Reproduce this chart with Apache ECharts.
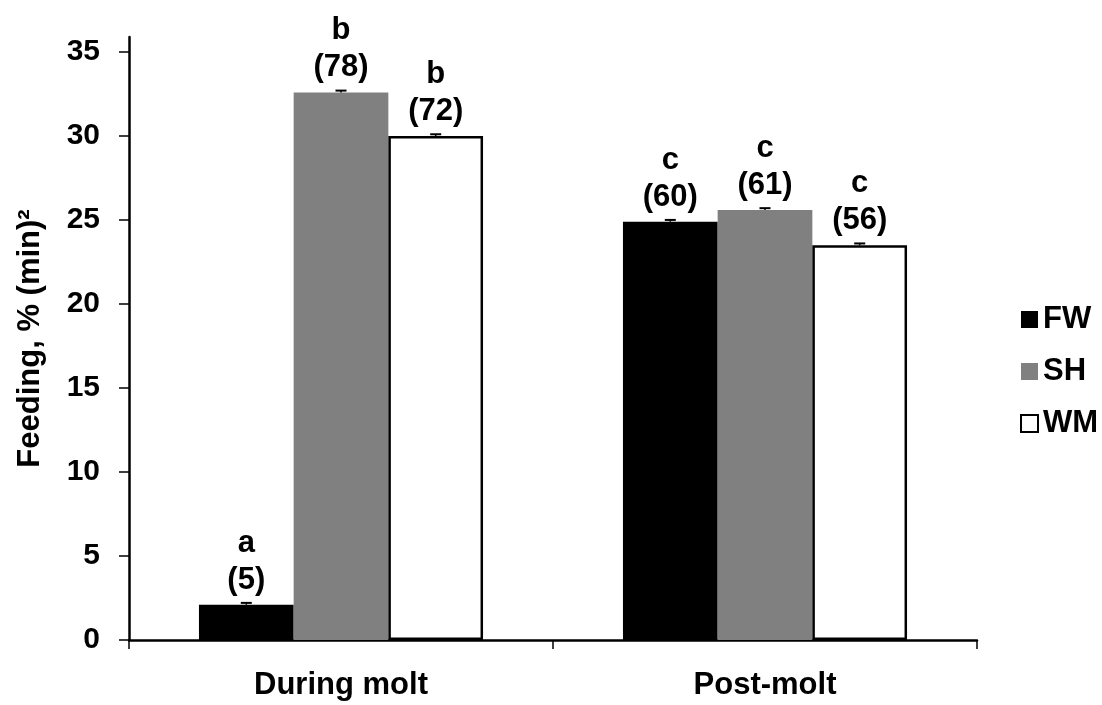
<!DOCTYPE html>
<html>
<head>
<meta charset="utf-8">
<title>Feeding during and after molt</title>
<script src="https://cdn.jsdelivr.net/npm/echarts@6/dist/echarts.min.js"></script>
<style>
  html, body { margin: 0; padding: 0; background: #fff; }
  #chart { width: 1102px; height: 705px; }
</style>
</head>
<body>
<div id="chart"></div>
<script>
// values
var categories = ["During molt", "Post-molt"];
var groups = ["FW", "SH", "WM"];
var fwValues = [2.1, 24.9];
var shValues = [32.6, 25.6];
var wmValues = [30.0, 23.5];
var fwErr = [0.05, 0.05];
var shErr = [0.05, 0.05];
var wmErr = [0.05, 0.05];
var fwLetters = ["a", "c"];
var shLetters = ["b", "c"];
var wmLetters = ["b", "c"];
var fwN = [5, 60];
var shN = [78, 61];
var wmN = [72, 56];
var yTicks = [0, 5, 10, 15, 20, 25, 30, 35];

var font = "Arial, 'Liberation Sans', sans-serif";
var chart = echarts.init(document.getElementById("chart"));

function barLabel(letters, ns) {
  return {
    show: true,
    position: "top",
    distance: 6,
    color: "#000",
    fontFamily: font,
    fontWeight: "bold",
    fontSize: 31,
    lineHeight: 37,
    formatter: function(p) {
      return letters[p.dataIndex] + "\n(" + ns[p.dataIndex] + ")";
    }
  };
}

function errData(values, errs, s) {
  return values.map(function(v, i) {
    return [i, v, errs[i], s];
  });
}

var errAll = []
  .concat(errData(fwValues, fwErr, 0))
  .concat(errData(shValues, shErr, 1))
  .concat(errData(wmValues, wmErr, 2));

var option = {
  animation: false,
  backgroundColor: "#fff",
  grid: { left: 129, right: 125, top: 37, bottom: 65 },
  legend: {
    orient: "vertical",
    left: 1015,
    top: 299,
    data: groups,
    icon: "rect",
    itemWidth: 17,
    itemHeight: 17,
    itemGap: 21,
    textStyle: {
      color: "#000",
      fontFamily: font,
      fontWeight: "bold",
      fontSize: 31,
      lineHeight: 31
    }
  },
  xAxis: {
    type: "category",
    data: categories,
    axisLine: { lineStyle: { color: "#000", width: 2.5 } },
    axisTick: { show: true, length: 9, lineStyle: { color: "#000", width: 1.5 } },
    axisLabel: {
      color: "#000",
      fontFamily: font,
      fontWeight: "bold",
      fontSize: 31,
      margin: 30
    }
  },
  yAxis: {
    type: "value",
    min: 0,
    max: 35.9,
    interval: 5,
    name: "Feeding, % (min)\u00b2",
    nameLocation: "middle",
    nameGap: 83,
    nameTextStyle: {
      color: "#000",
      fontFamily: font,
      fontWeight: "bold",
      fontSize: 31
    },
    axisLine: { show: true, lineStyle: { color: "#000", width: 2.5 } },
    axisTick: {
      show: true,
      length: 10,
      customValues: yTicks,
      lineStyle: { color: "#000", width: 1.5 }
    },
    axisLabel: {
      customValues: yTicks,
      color: "#000",
      fontFamily: font,
      fontWeight: "bold",
      fontSize: 30,
      margin: 29
    },
    splitLine: { show: false }
  },
  series: [
    {
      name: "FW",
      type: "bar",
      data: fwValues,
      barGap: "0%",
      barCategoryGap: "33%",
      itemStyle: { color: "#000" },
      label: barLabel(fwLetters, fwN)
    },
    {
      name: "SH",
      type: "bar",
      data: shValues,
      itemStyle: { color: "#808080" },
      label: barLabel(shLetters, shN)
    },
    {
      name: "WM",
      type: "bar",
      data: wmValues,
      itemStyle: { color: "#fff", borderColor: "#000", borderWidth: 2.5 },
      label: barLabel(wmLetters, wmN)
    },
    {
      type: "custom",
      data: errAll,
      z: 5,
      encode: { x: 0, y: 1 },
      renderItem: function(params, api) {
        var cat = api.value(0), v = api.value(1), e = api.value(2), s = api.value(3);
        var band = api.size([1, 0])[0];
        var bw = band * 0.67 / 3;
        var base = api.coord([cat, v]);
        var top = api.coord([cat, v + e]);
        var x = base[0] + (s - 1) * bw;
        return {
          type: "group",
          children: [
            {
              type: "line",
              shape: { x1: x, y1: base[1], x2: x, y2: top[1] - 1 },
              style: { stroke: "#000", lineWidth: 1.5 }
            },
            {
              type: "line",
              shape: { x1: x - 5.5, y1: top[1] - 1, x2: x + 5.5, y2: top[1] - 1 },
              style: { stroke: "#000", lineWidth: 2 }
            }
          ]
        };
      }
    }
  ]
};

chart.setOption(option);
</script>
</body>
</html>
